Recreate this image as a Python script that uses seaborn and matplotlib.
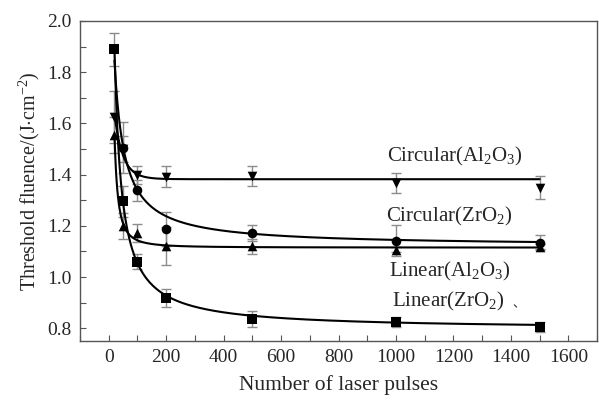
import numpy as np
import pandas as pd
import matplotlib
matplotlib.use("Agg")
import matplotlib.pyplot as plt
import seaborn as sns
from matplotlib.ticker import MultipleLocator

pulses = [20, 50, 100, 200, 500, 1000, 1500]
circ_al = [1.625, 1.50, 1.397, 1.392, 1.395, 1.367, 1.348]
circ_al_err = [0.10, 0.05, 0.035, 0.04, 0.04, 0.04, 0.045]
circ_zr_pulses = [50, 100, 200, 500, 1000, 1500]
circ_zr = [1.505, 1.338, 1.187, 1.172, 1.142, 1.134]
circ_zr_err = [0.10, 0.04, 0.065, 0.03, 0.06, 0.03]
lin_al = [1.555, 1.20, 1.172, 1.12, 1.12, 1.106, 1.118]
lin_al_err = [0.07, 0.05, 0.035, 0.075, 0.03, 0.01, 0.01]
lin_zr = [1.89, 1.295, 1.06, 0.918, 0.836, 0.825, 0.805]
lin_zr_err = [0.065, 0.06, 0.03, 0.035, 0.03, 0.02, 0.02]

# fitted decay curves: y = y0 + A * (1 + x/c)^(-n)
fit_y0 = [1.382, 1.12, 1.115, 0.795]
fit_A = [0.51, 1.714, 90.9, 5.705]
fit_c = [560, 14.7, 1.0, 4.75]
fit_n = [20, 1, 1.75, 1]

labels = [r"Circular(Al$_2$O$_3$)", r"Circular(ZrO$_2$)",
          r"Linear(Al$_2$O$_3$)", r"Linear(ZrO$_2$)"]
label_x = [970, 965, 975, 985]
label_y = [1.472, 1.236, 1.022, 0.905]

sns.set_theme(style="ticks")
plt.rcParams["font.family"] = ["Liberation Serif", "DejaVu Serif"]
plt.rcParams["mathtext.fontset"] = "custom"
plt.rcParams["mathtext.rm"] = "Liberation Serif"
plt.rcParams["mathtext.it"] = "Liberation Serif:italic"

fig = plt.figure(figsize=(5.99, 4.03), dpi=100)
ax = fig.add_axes([0.1336, 0.1538, 0.8631, 0.7941])

# fit lines
fit_x = np.linspace(20, 1500, 600)
rows = []
for i in range(4):
    yy = fit_y0[i] + fit_A[i] * (1 + fit_x / fit_c[i]) ** (-fit_n[i])
    rows.append(pd.DataFrame({"x": fit_x, "y": yy, "s": i}))
fits = pd.concat(rows)
sns.lineplot(data=fits, x="x", y="y", units="s", estimator=None,
             color="black", lw=1.5, ax=ax, legend=False, zorder=2)

# error bars + markers
series = [
    (pulses, circ_al, circ_al_err, "v"),
    (circ_zr_pulses, circ_zr, circ_zr_err, "o"),
    (pulses, lin_al, lin_al_err, "^"),
    (pulses, lin_zr, lin_zr_err, "s"),
]
for xs, ys, es, m in series:
    ax.errorbar(xs, ys, yerr=es, fmt="none", ecolor="#8c8c8c",
                elinewidth=1.0, capsize=3.5, capthick=1.0, zorder=1)
    df = pd.DataFrame({"x": xs, "y": ys})
    sns.scatterplot(data=df, x="x", y="y", marker=m, color="black",
                    s=48, edgecolor="black", linewidth=0, ax=ax, zorder=3)

for lab, lx, ly in zip(labels, label_x, label_y):
    ax.text(lx, ly, lab, fontsize=15, ha="left", va="center")
ax.text(1405, 0.897, "、", fontsize=9, ha="left", va="center",
        family=["Noto Sans CJK SC", "DejaVu Sans"])

ax.set_xlim(-100, 1700)
ax.set_ylim(0.75, 2.0)
ax.xaxis.set_major_locator(MultipleLocator(200))
ax.xaxis.set_minor_locator(MultipleLocator(100))
ax.yaxis.set_minor_locator(MultipleLocator(0.1))
ax.set_yticks(np.arange(0.8, 2.01, 0.2))
ax.set_yticklabels([f"{v:.1f}" for v in np.arange(0.8, 2.01, 0.2)])
ax.tick_params(which="both", direction="in", length=4, width=0.8,
               color="#555555", labelsize=14, pad=6)
for sp in ax.spines.values():
    sp.set_color("#555555")
    sp.set_linewidth(1.0)

ax.set_xlabel("Number of laser pulses", fontsize=15.5, labelpad=6)
ax.set_ylabel(r"Threshold fluence/(J$\cdot$cm$^{-2}$)", fontsize=14.5, labelpad=4)

fig.savefig("out.png", dpi=100)
